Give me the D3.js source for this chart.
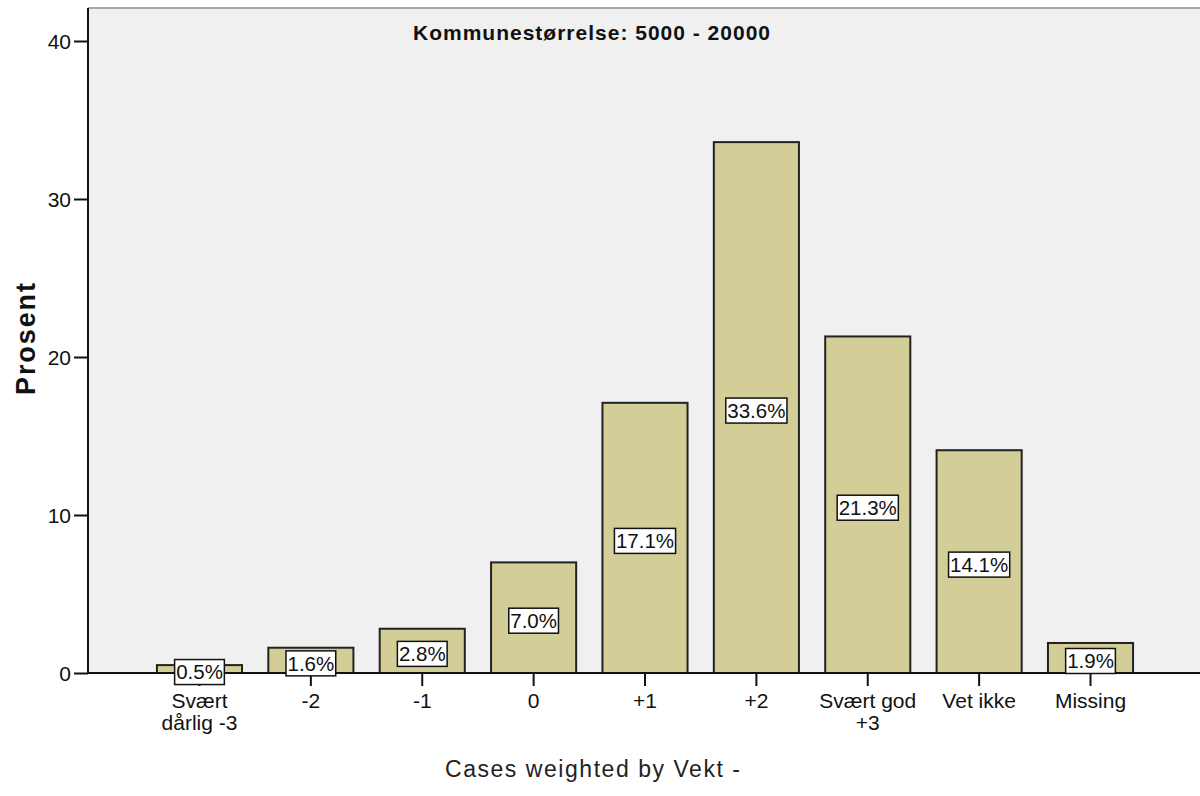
<!DOCTYPE html>
<html>
<head>
<meta charset="utf-8">
<script src="https://cdn.jsdelivr.net/npm/d3@7"></script>
<style>
  body { margin: 0; background: #fff; }
  svg text { font-family: "Liberation Sans", Arial, sans-serif; fill: #111; }
</style>
</head>
<body>
<svg id="chart" width="1200" height="796"></svg>
<script>
// values
var categories = ["Svært\ndårlig -3", "-2", "-1", "0", "+1", "+2", "Svært god\n+3", "Vet ikke", "Missing"];
var percents = [0.5, 1.6, 2.8, 7.0, 17.1, 33.6, 21.3, 14.1, 1.9];
var yTicks = [0, 10, 20, 30, 40];
var title = "Kommunestørrelse: 5000 - 20000";
var yTitle = "Prosent";
var footer = "Cases weighted by Vekt -";

var svg = d3.select("#chart");
var plotLeft = 88, plotTop = 8, plotRight = 1200, plotBottom = 673;

var x = d3.scaleBand()
  .domain(categories)
  .range([89, 1201])
  .paddingInner(0.236)
  .paddingOuter(0.61);

var y = d3.scaleLinear()
  .domain([0, 40])
  .range([plotBottom, 41]);

// plot background
svg.append("rect")
  .attr("x", plotLeft).attr("y", plotTop)
  .attr("width", plotRight - plotLeft).attr("height", plotBottom - plotTop)
  .attr("fill", "#f0f0f0");

svg.append("line")
  .attr("x1", plotLeft).attr("x2", plotRight)
  .attr("y1", plotTop).attr("y2", plotTop)
  .attr("stroke", "#a8a8a8").attr("stroke-width", 2);

// bars
var data = categories.map(function(c, i) { return {cat: c, v: percents[i]}; });

svg.append("g").selectAll("rect")
  .data(data)
  .enter()
  .append("rect")
  .attr("x", d => x(d.cat))
  .attr("y", d => y(d.v))
  .attr("width", x.bandwidth())
  .attr("height", d => plotBottom - y(d.v))
  .attr("fill", "#d3ce97")
  .attr("stroke", "#222")
  .attr("stroke-width", 2);

// y axis
var yAxis = svg.append("g")
  .attr("transform", `translate(${plotLeft},0)`)
  .call(d3.axisLeft(y).tickValues(yTicks).tickSize(14).tickPadding(3).tickSizeOuter(0));
yAxis.select(".domain").remove();
yAxis.selectAll(".tick line").attr("stroke", "#111").attr("stroke-width", 2);
yAxis.selectAll(".tick text").style("font-size", "21px").attr("dy", "0.36em");

svg.append("line")
  .attr("x1", plotLeft).attr("x2", plotLeft)
  .attr("y1", plotTop).attr("y2", plotBottom)
  .attr("stroke", "#111").attr("stroke-width", 2);

// x axis
var xAxis = svg.append("g")
  .attr("transform", `translate(0,${plotBottom})`)
  .call(d3.axisBottom(x).tickSize(13).tickSizeOuter(0).tickFormat(""));
xAxis.select(".domain").remove();
xAxis.selectAll(".tick line").attr("stroke", "#111").attr("stroke-width", 2);

svg.append("line")
  .attr("x1", plotLeft).attr("x2", plotRight)
  .attr("y1", plotBottom).attr("y2", plotBottom)
  .attr("stroke", "#111").attr("stroke-width", 2);

var xLabels = svg.append("g").selectAll("text")
  .data(categories)
  .enter()
  .append("text")
  .attr("text-anchor", "middle")
  .style("font-size", "21px");

xLabels.each(function(c) {
  var t = d3.select(this);
  c.split("\n").forEach(function(line, k) {
    t.append("tspan")
      .attr("x", x(c) + x.bandwidth() / 2)
      .attr("y", 708 + k * 22)
      .text(line);
  });
});

// value labels
var labels = svg.append("g").selectAll("g")
  .data(data)
  .enter()
  .append("g")
  .attr("transform", d => `translate(${x(d.cat) + x.bandwidth() / 2},${y(d.v / 2) + 3})`);

labels.append("rect").attr("class", "lbox");
labels.append("text")
  .attr("text-anchor", "middle")
  .attr("dy", "0.36em")
  .style("font-size", "20.5px")
  .text(d => d.v.toFixed(1) + "%");

labels.each(function() {
  var g = d3.select(this);
  var w = g.select("text").node().getComputedTextLength() + 3;
  g.select("rect")
    .attr("x", -w / 2).attr("y", -12.5)
    .attr("width", w).attr("height", 25)
    .attr("fill", "#fff")
    .attr("stroke", "#111")
    .attr("stroke-width", 1.5);
});

// titles
svg.append("text")
  .attr("x", 413).attr("y", 40)
  .attr("textLength", 357)
  .style("font-size", "21px").style("font-weight", "bold")
  .text(title);

svg.append("text")
  .attr("transform", "translate(35,339) rotate(-90)")
  .attr("text-anchor", "middle")
  .attr("textLength", 112)
  .style("font-size", "27px").style("font-weight", "bold")
  .text(yTitle);

svg.append("text")
  .attr("x", 445).attr("y", 777)
  .attr("textLength", 295)
  .style("font-size", "23px")
  .style("fill", "#222")
  .text(footer);
</script>
</body>
</html>
